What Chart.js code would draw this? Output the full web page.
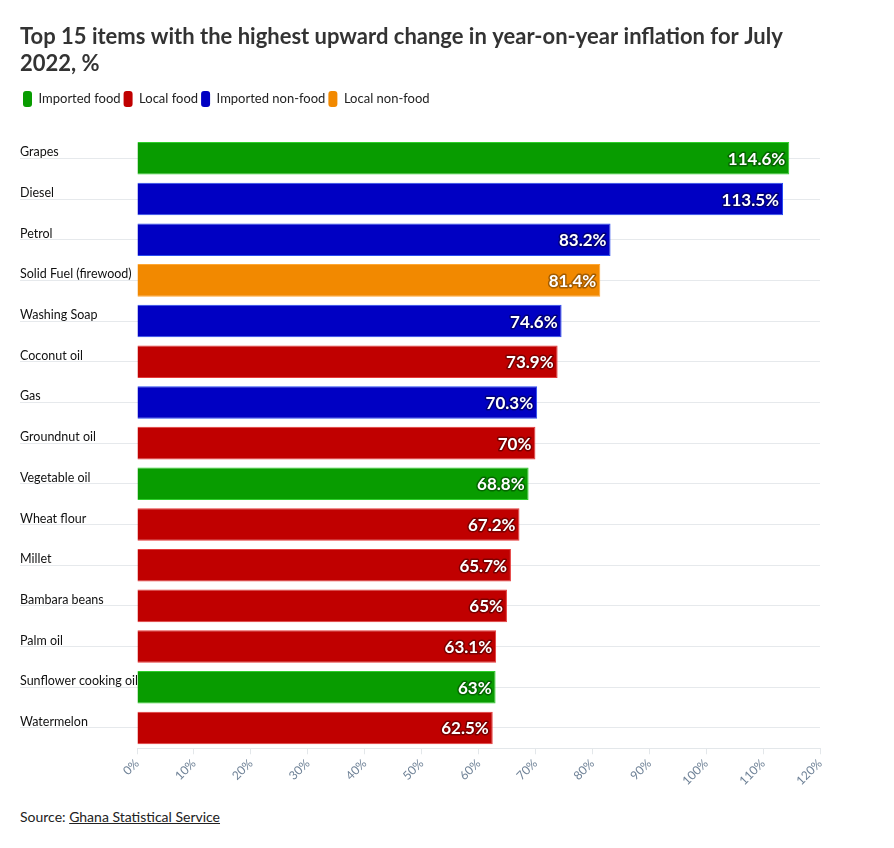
<!DOCTYPE html>
<html>
<head>
<meta charset="utf-8">
<script src="https://cdn.jsdelivr.net/npm/chart.js@4.4.1/dist/chart.umd.min.js"></script>
<style>
  body { margin: 0; background: #fff; font-family: Lato, sans-serif; }
  #wrap { position: relative; width: 894px; height: 800px; }
  .source { position: absolute; left: 20px; top: 808px; font-size: 14px; color: #222; }
  .source a { color: #222; text-decoration: underline; }
</style>
</head>
<body>
<div id="wrap"><canvas id="chart"></canvas></div>
<div class="source">Source: <a href="#">Ghana Statistical Service</a></div>
<script>
// items, top to bottom
const items = ['Grapes', 'Diesel', 'Petrol', 'Solid Fuel (firewood)', 'Washing Soap', 'Coconut oil', 'Gas',
  'Groundnut oil', 'Vegetable oil', 'Wheat flour', 'Millet', 'Bambara beans', 'Palm oil',
  'Sunflower cooking oil', 'Watermelon'];
const values = [114.6, 113.5, 83.2, 81.4, 74.6, 73.9, 70.3, 70, 68.8, 67.2, 65.7, 65, 63.1, 63, 62.5];
const groups = ['Imported food', 'Imported non-food', 'Imported non-food', 'Local non-food', 'Imported non-food',
  'Local food', 'Imported non-food', 'Local food', 'Imported food', 'Local food', 'Local food', 'Local food',
  'Local food', 'Imported food', 'Local food'];
const groupNames = ['Imported food', 'Local food', 'Imported non-food', 'Local non-food'];
const xTicks = [0, 10, 20, 30, 40, 50, 60, 70, 80, 90, 100, 110, 120];

const fills = ['#089c00', '#c00000', '#0000c3', '#f28900'];
const edges = ['#2dcf2a', '#e43a3a', '#2a4df0', '#ffa733'];
const shades = ['#056600', '#7a0000', '#00007a', '#a35c00'];

// one dataset per group, null where the item belongs elsewhere
const datasets = groupNames.map((g, i) => ({
  label: g,
  data: values.map((v, j) => groups[j] === g ? v : null),
  backgroundColor: fills[i],
  borderColor: edges[i],
  borderWidth: 1,
  shade: shades[i],
  grouped: false,
  categoryPercentage: 0.8,
  barPercentage: 1
}));

// white value labels at the end of each bar
const valueLabels = {
  id: 'valueLabels',
  afterDatasetsDraw(chart) {
    const ctx = chart.ctx;
    ctx.save();
    ctx.font = 'bold 17px Lato, sans-serif';
    ctx.textAlign = 'right';
    ctx.textBaseline = 'middle';
    ctx.lineJoin = 'round';
    chart.data.datasets.forEach((ds, i) => {
      chart.getDatasetMeta(i).data.forEach((bar, j) => {
        const v = ds.data[j];
        if (v === null) return;
        const txt = v + '%';
        ctx.lineWidth = 3;
        ctx.strokeStyle = ds.shade;
        ctx.strokeText(txt, bar.x - 4, bar.y + 1);
        ctx.fillStyle = '#fff';
        ctx.fillText(txt, bar.x - 4, bar.y + 1);
      });
    });
    ctx.restore();
  }
};

// extra space under the legend
const legendGap = {
  id: 'legendGap',
  beforeInit(chart) {
    const fit = chart.legend.fit;
    chart.legend.fit = function () {
      fit.bind(chart.legend)();
      this.height += 21;
    };
  }
};

const ctx = document.getElementById('chart').getContext('2d');
new Chart(ctx, {
  type: 'bar',
  data: { labels: items, datasets: datasets },
  options: {
    indexAxis: 'y',
    responsive: true,
    maintainAspectRatio: false,
    animation: false,
    layout: { padding: { left: 20, right: 74, top: 23, bottom: 10 } },
    plugins: {
      title: {
        display: true,
        text: ['Top 15 items with the highest upward change in year-on-year inflation for July', '2022, %'],
        align: 'start',
        color: '#333',
        font: { family: 'Lato, sans-serif', size: 22, weight: 'bold', lineHeight: 1.25 },
        padding: { top: 0, bottom: 10 }
      },
      legend: {
        position: 'top',
        align: 'start',
        labels: {
          boxWidth: 9,
          boxHeight: 16,
          useBorderRadius: true,
          borderRadius: 3,
          color: '#222',
          padding: 3,
          font: { family: 'Lato, sans-serif', size: 13 },
          generateLabels(chart) {
            return chart.data.datasets.map((ds, i) => ({
              text: ds.label, fillStyle: ds.backgroundColor, strokeStyle: ds.backgroundColor,
              lineWidth: 0, datasetIndex: i, borderRadius: 3, fontColor: '#222'
            }));
          }
        }
      },
      tooltip: { enabled: false }
    },
    scales: {
      x: {
        min: 0,
        max: 120,
        afterBuildTicks(scale) { scale.ticks = xTicks.map(v => ({ value: v })); },
        ticks: {
          callback: v => v + '%',
          color: '#6f8297',
          font: { family: 'Lato, sans-serif', size: 12 },
          minRotation: 45,
          maxRotation: 45,
          padding: 2
        },
        grid: { drawOnChartArea: false, drawTicks: true, tickLength: 6, color: '#e3e7ea' },
        border: { display: true, color: '#e3e7ea' }
      },
      y: {
        grid: { offset: false, color: '#e6e9ec', tickLength: 117, drawTicks: true },
        border: { display: false },
        ticks: {
          crossAlign: 'far',
          labelOffset: -6,
          padding: 0,
          color: '#111',
          font: { family: 'Lato, sans-serif', size: 12.5 }
        },
        afterFit(scale) { scale.width = 117; }
      }
    }
  },
  plugins: [valueLabels, legendGap]
});
</script>
</body>
</html>
